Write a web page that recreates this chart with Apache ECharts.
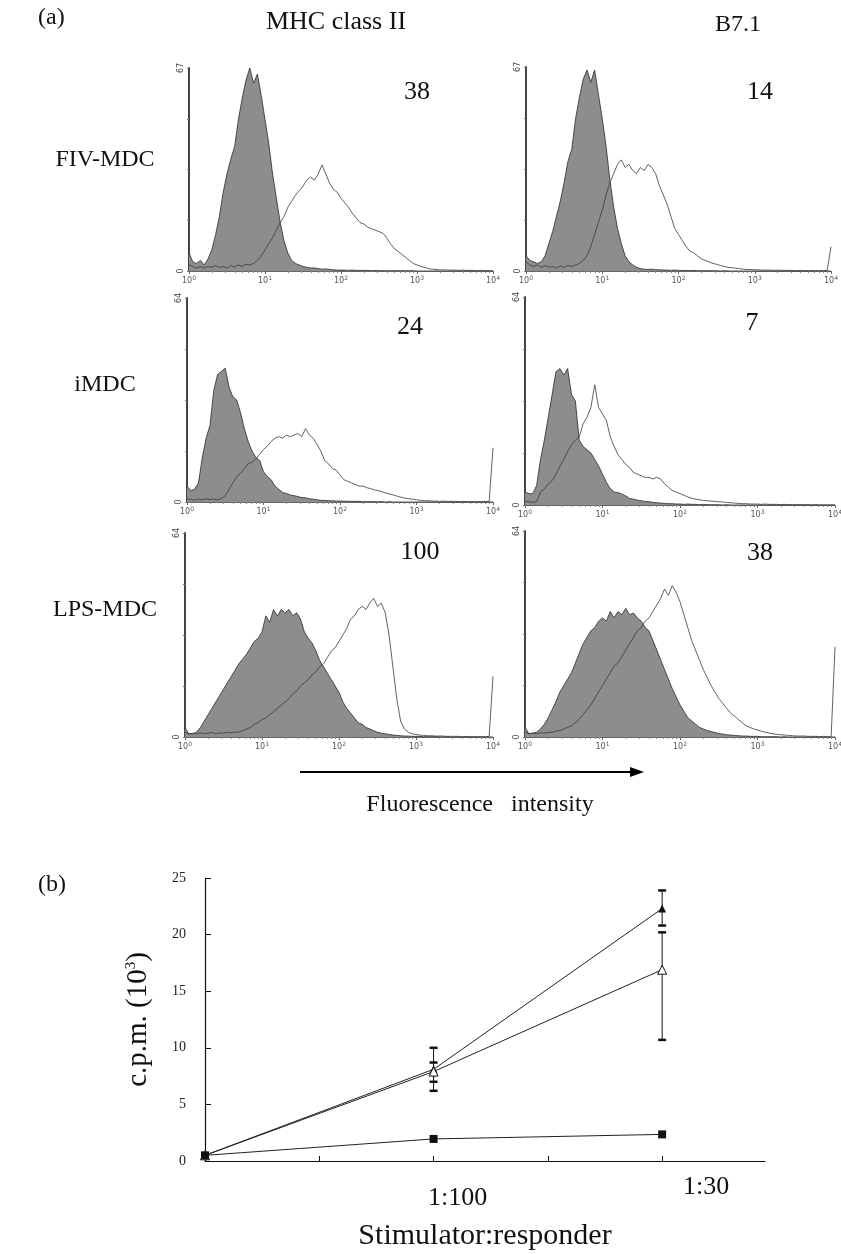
<!DOCTYPE html>
<html>
<head>
<meta charset="utf-8">
<script src="https://cdn.jsdelivr.net/npm/echarts@6.0.0/dist/echarts.min.js"></script>
<style>
html, body { margin: 0; padding: 0; background: #fff; }
#main { width: 841px; height: 1254px; }
</style>
</head>
<body>
<div id="main"></div>
<script>
// ---- (a) flow cytometry histograms, counts per 1/20-decade channel (10^0 .. 10^4) ----
// gray = isotype control, white = marker staining
var grayFivMhc = [
    6, 3, 2.5, 3.5, 2, 4, 7, 12, 18, 26, 32, 37, 41, 50, 57, 63, 67, 62, 65, 58,
    50, 42, 32, 24, 16, 10, 6, 3.5, 2.5, 2, 1.5, 1.2, 1, 1, 0.8, 0.6, 0.7, 0.5, 0.4, 0.3,
    0.3, 0.3, 0.2, 0.3, 0.2, 0.2, 0.2, 0.2, 0.1, 0.2, 0.1, 0.1, 0.1, 0.1, 0.1, 0.1, 0.1, 0.1, 0.1, 0.1,
    0, 0, 0, 0, 0, 0, 0, 0, 0, 0, 0, 0, 0, 0, 0, 0, 0, 0, 0, 0,
    0];
var whiteFivMhc = [
    2, 1.5, 1, 1.5, 1, 1.5, 1.2, 1.8, 1.2, 1.5, 1, 1.8, 1.3, 2, 1.5, 2.2, 2, 2.5, 3.5, 5,
    7, 9, 11, 13.5, 16, 18, 21, 23, 25, 26.5, 28, 30, 31, 30, 32, 35, 32, 29, 27, 26,
    24, 22.5, 21, 19, 17.5, 16, 15.5, 14.5, 14, 13.5, 13, 12.5, 11, 9, 7.5, 6.5, 5.5, 4.5, 3.5, 2.5,
    2, 1.5, 1.2, 0.8, 0.6, 0.5, 0.4, 0.4, 0.3, 0.3, 0.3, 0.2, 0.3, 0.2, 0.2, 0.2, 0.1, 0.2, 0.1, 0.1,
    0.1];
var grayFivB71 = [
    5, 3.5, 3, 2.5, 3, 5, 9, 13, 18, 23, 29, 36, 40, 50, 57, 63, 66, 62, 66, 58,
    50, 41, 30, 21, 14, 9, 5, 3, 2, 1.2, 0.8, 0.6, 0.5, 0.6, 0.4, 0.4, 0.3, 0.3, 0.2, 0.3,
    0.2, 0.2, 0.2, 0.1, 0.2, 0.1, 0.1, 0.1, 0.1, 0.1, 0.1, 0, 0.1, 0, 0, 0, 0, 0, 0, 0,
    0, 0, 0, 0, 0, 0, 0, 0, 0, 0, 0, 0, 0, 0, 0, 0, 0, 0, 0, 0,
    0];
var whiteFivB71 = [
    3, 2, 1.5, 2, 1.2, 1.8, 1.2, 1.5, 1, 1.6, 1.2, 1.8, 1.5, 2, 2.5, 3.5, 5, 8, 12, 16,
    20, 25, 29, 32, 35, 36.5, 34, 35, 33, 32, 34, 33, 35, 34, 32, 28, 25, 22, 18, 14,
    12, 10, 8, 6.5, 6, 5, 4, 3.5, 3, 2.5, 2.2, 1.8, 1.5, 1.2, 1.1, 0.9, 0.8, 0.6, 0.5, 0.5,
    0.4, 0.4, 0.3, 0.3, 0.3, 0.2, 0.3, 0.2, 0.2, 0.2, 0.2, 0.1, 0.2, 0.1, 0.1, 0.1, 0.1, 0.1, 0.1, 0.2,
    8];
var grayIMhc = [
    5, 3.5, 4, 6, 14, 20, 24, 35, 40, 41, 42, 36, 33, 32, 28, 23, 19, 16, 14, 13,
    9.5, 8, 7, 5, 4, 3, 2.7, 2.2, 2, 1.7, 1.4, 1.3, 1, 0.9, 0.7, 0.5, 0.5, 0.4, 0.4, 0.3,
    0.3, 0.3, 0.2, 0.2, 0.2, 0.2, 0.1, 0.1, 0.1, 0.1, 0.1, 0.1, 0, 0.1, 0, 0, 0, 0, 0, 0,
    0, 0, 0, 0, 0, 0, 0, 0, 0, 0, 0, 0, 0, 0, 0, 0, 0, 0, 0, 0,
    0];
var whiteIMhc = [
    1, 0.8, 0.6, 0.9, 0.7, 1, 0.8, 0.9, 0.7, 1, 2, 4, 6, 8, 9, 10.5, 12, 12.5, 13.5, 15,
    16.5, 17.5, 19, 20, 20.5, 20, 21, 20.5, 21, 21.5, 20.5, 23, 21, 20, 18, 16, 13, 12, 10.5, 10,
    8.5, 7, 6.5, 6, 5.5, 5, 5, 4.5, 4.2, 3.8, 3.6, 3.2, 2.8, 2.5, 2.2, 1.8, 1.5, 1.2, 1, 0.9,
    0.7, 0.5, 0.4, 0.4, 0.3, 0.3, 0.2, 0.3, 0.2, 0.2, 0.2, 0.1, 0.2, 0.1, 0.1, 0.1, 0.1, 0.1, 0.1, 0.2,
    17];
var grayIB71 = [
    4, 3.5, 3.5, 6, 14, 20, 27, 34, 41, 42, 40, 42, 34, 32, 20, 18, 17, 16, 14, 12,
    9.5, 7, 5, 4, 3.8, 3.4, 2.8, 2, 1.8, 1.5, 1.3, 1.1, 1, 0.8, 0.7, 0.6, 0.5, 0.4, 0.4, 0.3,
    0.3, 0.2, 0.3, 0.2, 0.2, 0.1, 0.2, 0.1, 0.1, 0.1, 0.1, 0, 0.1, 0, 0, 0, 0, 0, 0, 0,
    0, 0, 0, 0, 0, 0, 0, 0, 0, 0, 0, 0, 0, 0, 0, 0, 0, 0, 0, 0,
    0];
var whiteIB71 = [
    1.2, 1, 0.8, 1, 4, 5, 6.5, 7.5, 9.5, 12, 14, 16.5, 18.5, 20, 21, 25, 27, 30, 37, 30,
    28, 26, 21, 18, 15.5, 14, 12.5, 11.5, 10, 9.5, 9, 8.5, 8.5, 8, 8.5, 8, 6.5, 5.5, 4.5, 4,
    3.5, 3, 2.5, 2.1, 1.8, 1.6, 1.4, 1.3, 1.2, 1.1, 1, 0.9, 0.8, 0.7, 0.6, 0.5, 0.4, 0.4, 0.3, 0.3,
    0.3, 0.2, 0.3, 0.2, 0.2, 0.2, 0.1, 0.2, 0.1, 0.1, 0.1, 0.1, 0.1, 0.1, 0, 0.1, 0, 0, 0, 0,
    0];
var grayLpsMhc = [
    3, 1, 1, 1.5, 3, 5, 7, 9, 11, 13, 15, 17, 19, 21, 23, 24.5, 26, 28, 30, 31,
    33, 38, 36, 40, 38, 40, 39, 40, 38, 39, 37, 33, 31, 29.5, 27, 24, 22, 20, 18, 16,
    14, 11, 9, 7.5, 6, 4.5, 4, 3, 2.5, 2, 1.5, 1.2, 1, 0.8, 0.6, 0.5, 0.4, 0.3, 0.3, 0.2,
    0.2, 0.2, 0.1, 0.1, 0.1, 0.1, 0.1, 0, 0.1, 0, 0, 0, 0, 0, 0, 0, 0, 0, 0, 0,
    0];
var whiteLpsMhc = [
    1.5, 1, 1.2, 1, 1.3, 1, 1.2, 1.4, 1, 1.3, 1.2, 1.5, 1.3, 1.6, 1.5, 2, 2.5, 3, 4, 4.5,
    5.5, 6, 7, 8, 9, 10, 11, 12, 13.5, 14.5, 16, 17, 18, 19.5, 20.5, 22, 23, 25, 27, 28,
    30, 32, 34, 37, 38, 40, 41, 40, 42, 43.5, 41, 42, 39, 32, 22, 12, 5, 2.5, 1.5, 1,
    0.8, 0.6, 0.5, 0.4, 0.4, 0.3, 0.3, 0.3, 0.2, 0.2, 0.2, 0.2, 0.1, 0.2, 0.1, 0.1, 0.1, 0.1, 0.1, 0.2,
    19];
var grayLpsB71 = [
    3, 1, 1.2, 1.5, 2.5, 4, 6, 8.5, 11, 14, 16, 18, 20, 23, 26, 29, 31, 33, 34, 36,
    37, 36, 39, 37, 39, 38, 40, 38, 38.5, 37, 36, 34, 33, 30, 27, 24, 21, 18, 15, 12.5,
    10, 8, 6, 5, 4, 3, 2.5, 2, 1.7, 1.4, 1.1, 0.9, 0.7, 0.6, 0.5, 0.4, 0.3, 0.3, 0.2, 0.2,
    0.2, 0.1, 0.1, 0.1, 0.1, 0.1, 0, 0.1, 0, 0, 0, 0, 0, 0, 0, 0, 0, 0, 0, 0,
    0];
var whiteLpsB71 = [
    1.5, 1, 1.2, 1, 1.3, 1.2, 1.5, 1.4, 1.8, 2, 2.5, 3, 3.5, 4.5, 5.5, 7, 8.5, 10, 12, 14,
    16, 18, 20, 22, 23, 25, 27, 29, 31, 33, 34, 36, 37, 39, 41, 43, 46, 44, 47, 45,
    42, 38, 34, 30, 27, 24, 21, 18.5, 16, 14, 12, 10.5, 9, 7.5, 6.5, 5.5, 4.5, 3.5, 3, 2.5,
    2.2, 1.8, 1.5, 1.2, 1, 0.8, 0.7, 0.6, 0.5, 0.4, 0.3, 0.3, 0.3, 0.2, 0.2, 0.2, 0.1, 0.2, 0.1, 0.1,
    28];

var panelMax = [67, 67, 64, 64, 64, 64];
var panelPercent = ['38', '14', '24', '7', '100', '38'];
var cellTypes = ['FIV-MDC', 'iMDC', 'LPS-MDC'];
var markers = ['MHC class II', 'B7.1'];

// ---- (b) proliferation ----
var ratioPos = [0, 2, 4];
var ratioLabels = ['', '1:100', '1:30'];
var cpmFilled = [0.5, 8.1, 22.3];
var cpmFilledLow = [null, 6.2, 20.8];
var cpmFilledHigh = [null, 10.0, 23.9];
var cpmOpen = [0.5, 7.9, 16.9];
var cpmOpenLow = [null, 7.0, 10.7];
var cpmOpenHigh = [null, 8.7, 20.2];
var cpmSquare = [0.5, 1.95, 2.35];

// channel centres on the log fluorescence scale
var channels = grayFivMhc.map(function (_, k) { return Math.pow(10, k / 20); });

var serif = '"Liberation Serif", "DejaVu Serif", serif';
var panelBoxes = [
    {left: 189, top: 68, width: 304, height: 203},
    {left: 526, top: 67, width: 305, height: 204},
    {left: 187, top: 298, width: 306, height: 204},
    {left: 525, top: 297, width: 310, height: 208},
    {left: 185, top: 533, width: 308, height: 204},
    {left: 525, top: 531, width: 310, height: 206}
];
var grays = [grayFivMhc, grayFivB71, grayIMhc, grayIB71, grayLpsMhc, grayLpsB71];
var whites = [whiteFivMhc, whiteFivB71, whiteIMhc, whiteIB71, whiteLpsMhc, whiteLpsB71];

var grid = [], xAxis = [], yAxis = [], series = [];

panelBoxes.forEach(function (box, i) {
    grid.push({left: box.left, top: box.top, width: box.width, height: box.height,
        containLabel: false, outerBoundsMode: 'none'});
    xAxis.push({
        type: 'log', logBase: 10, min: 1, max: 10000, gridIndex: i,
        axisLine: {lineStyle: {color: '#666', width: 1}},
        axisTick: {length: 3, lineStyle: {color: '#666'}},
        minorTick: {show: true, splitNumber: 9, length: 2, lineStyle: {color: '#888'}},
        splitLine: {show: false},
        axisLabel: {
            color: '#555', fontSize: 8, margin: 4, fontFamily: 'DejaVu Sans',
            formatter: function (v) { return '10{s|' + Math.round(Math.log10(v)) + '}'; },
            rich: {s: {fontSize: 6, color: '#555', verticalAlign: 'top', padding: [0, 0, 5, 0]}}
        }
    });
    var max = panelMax[i];
    yAxis.push({
        type: 'value', min: 0, max: max, interval: max / 4, gridIndex: i,
        axisLine: {show: true, lineStyle: {color: '#444', width: 2}},
        axisTick: {show: true, length: 2, lineStyle: {color: '#777'}},
        splitLine: {show: false},
        axisLabel: {
            rotate: 90, fontSize: 8, color: '#444', margin: 4, fontFamily: 'DejaVu Sans',
            formatter: function (v) { return (v === 0 || v === max) ? String(v) : ''; }
        }
    });
    series.push({
        type: 'line', xAxisIndex: i, yAxisIndex: i, symbol: 'none', z: 2,
        data: channels.map(function (c, k) { return [c, grays[i][k]]; }),
        lineStyle: {color: '#2a2a2a', width: 0.8},
        areaStyle: {color: '#8d8d8d', opacity: 1}
    });
    series.push({
        type: 'line', xAxisIndex: i, yAxisIndex: i, symbol: 'none', z: 3,
        data: channels.map(function (c, k) { return [c, whites[i][k]]; }),
        lineStyle: {color: '#3a3a3a', width: 0.8}
    });
});

// bottom chart
grid.push({left: 205, top: 878, width: 560, height: 283, containLabel: false, outerBoundsMode: 'none'});
xAxis.push({
    type: 'value', min: 0, max: 4.9, interval: 1, gridIndex: 6,
    name: 'Stimulator:responder', nameLocation: 'middle', nameGap: 60,
    nameTextStyle: {fontFamily: serif, fontSize: 30, color: '#111'},
    axisLine: {lineStyle: {color: '#111', width: 1.2}},
    axisTick: {inside: true, length: 5, lineStyle: {color: '#111'}},
    splitLine: {show: false},
    axisLabel: {
        margin: 8, showMaxLabel: false,
        formatter: function (v) {
            var k = ratioPos.indexOf(v);
            if (k < 1) return '';
            return (k === 1 ? '{a|' : '{b|') + ratioLabels[k] + '}';
        },
        rich: {
            a: {fontFamily: serif, fontSize: 26, color: '#111', padding: [16, 0, 0, 48]},
            b: {fontFamily: serif, fontSize: 26, color: '#111', padding: [5, 0, 0, 88]}
        }
    }
});
yAxis.push({
    type: 'value', min: 0, max: 25, interval: 5, gridIndex: 6,
    name: 'c.p.m. (10{sup|3})', nameLocation: 'middle', nameRotate: 90, nameGap: 52,
    nameTextStyle: {
        fontFamily: serif, fontSize: 29, color: '#111',
        rich: {sup: {fontFamily: serif, fontSize: 15, color: '#111', padding: [0, 0, 14, 0]}}
    },
    axisLine: {show: true, lineStyle: {color: '#111', width: 1.2}},
    axisTick: {show: true, inside: true, length: 6, lineStyle: {color: '#111'}},
    splitLine: {show: false},
    axisLabel: {fontFamily: serif, fontSize: 14, color: '#222', margin: 19}
});

function pairs(vals) {
    return ratioPos.map(function (x, k) { return [x, vals[k]]; });
}
function errData(low, high) {
    var out = [];
    ratioPos.forEach(function (x, k) { if (low[k] != null) out.push([x, low[k], high[k]]); });
    return out;
}
function errRender(params, api) {
    var x = api.value(0);
    var p1 = api.coord([x, api.value(1)]);
    var p2 = api.coord([x, api.value(2)]);
    var cap = 4;
    return {
        type: 'group',
        children: [
            {type: 'line', shape: {x1: p1[0], y1: p1[1], x2: p2[0], y2: p2[1]}, style: {stroke: '#111', lineWidth: 1}},
            {type: 'line', shape: {x1: p1[0] - cap, y1: p1[1], x2: p1[0] + cap, y2: p1[1]}, style: {stroke: '#111', lineWidth: 2.5}},
            {type: 'line', shape: {x1: p2[0] - cap, y1: p2[1], x2: p2[0] + cap, y2: p2[1]}, style: {stroke: '#111', lineWidth: 2.5}}
        ]
    };
}

series.push({
    type: 'custom', xAxisIndex: 6, yAxisIndex: 6, renderItem: errRender, z: 3,
    data: errData(cpmFilledLow, cpmFilledHigh)
});
series.push({
    type: 'custom', xAxisIndex: 6, yAxisIndex: 6, renderItem: errRender, z: 3,
    data: errData(cpmOpenLow, cpmOpenHigh)
});
series.push({
    type: 'line', xAxisIndex: 6, yAxisIndex: 6, data: pairs(cpmFilled), clip: false, z: 4,
    symbol: 'triangle', symbolSize: 8, itemStyle: {color: '#111'},
    lineStyle: {color: '#222', width: 1}
});
series.push({
    type: 'line', xAxisIndex: 6, yAxisIndex: 6, data: pairs(cpmOpen), clip: false, z: 5,
    symbol: 'triangle', symbolSize: 9, itemStyle: {color: '#fff', borderColor: '#111', borderWidth: 1},
    lineStyle: {color: '#222', width: 1}
});
series.push({
    type: 'line', xAxisIndex: 6, yAxisIndex: 6, data: pairs(cpmSquare), clip: false, z: 6,
    symbol: 'rect', symbolSize: 8, itemStyle: {color: '#111'},
    lineStyle: {color: '#222', width: 1}
});

function txt(s, x, y, size, align) {
    return {
        type: 'text', x: x, y: y, z: 10,
        style: {text: s, font: size + 'px ' + serif, fill: '#111', align: align || 'center', verticalAlign: 'middle'}
    };
}

var percentPos = [[417, 92], [760, 92], [410, 327], [752, 323], [420, 552], [760, 553]];
var graphic = [
    txt('(a)', 38, 18, 24, 'left'),
    txt(markers[0], 336, 22, 26),
    txt(markers[1], 738, 25, 24),
    txt(cellTypes[0], 105, 160, 24),
    txt(cellTypes[1], 105, 385, 24),
    txt(cellTypes[2], 105, 610, 24),
    txt('Fluorescence   intensity', 480, 805, 24),
    txt('(b)', 38, 885, 24, 'left'),
    {type: 'line', shape: {x1: 300, y1: 772, x2: 632, y2: 772}, style: {stroke: '#000', lineWidth: 2}},
    {type: 'polygon', shape: {points: [[644, 772], [630, 767], [630, 777]]}, style: {fill: '#000'}}
];
percentPos.forEach(function (p, i) { graphic.push(txt(panelPercent[i], p[0], p[1], 26)); });

var chart = echarts.init(document.getElementById('main'));
chart.setOption({
    backgroundColor: '#fff',
    animation: false,
    grid: grid,
    xAxis: xAxis,
    yAxis: yAxis,
    series: series,
    graphic: graphic
});
</script>
</body>
</html>
